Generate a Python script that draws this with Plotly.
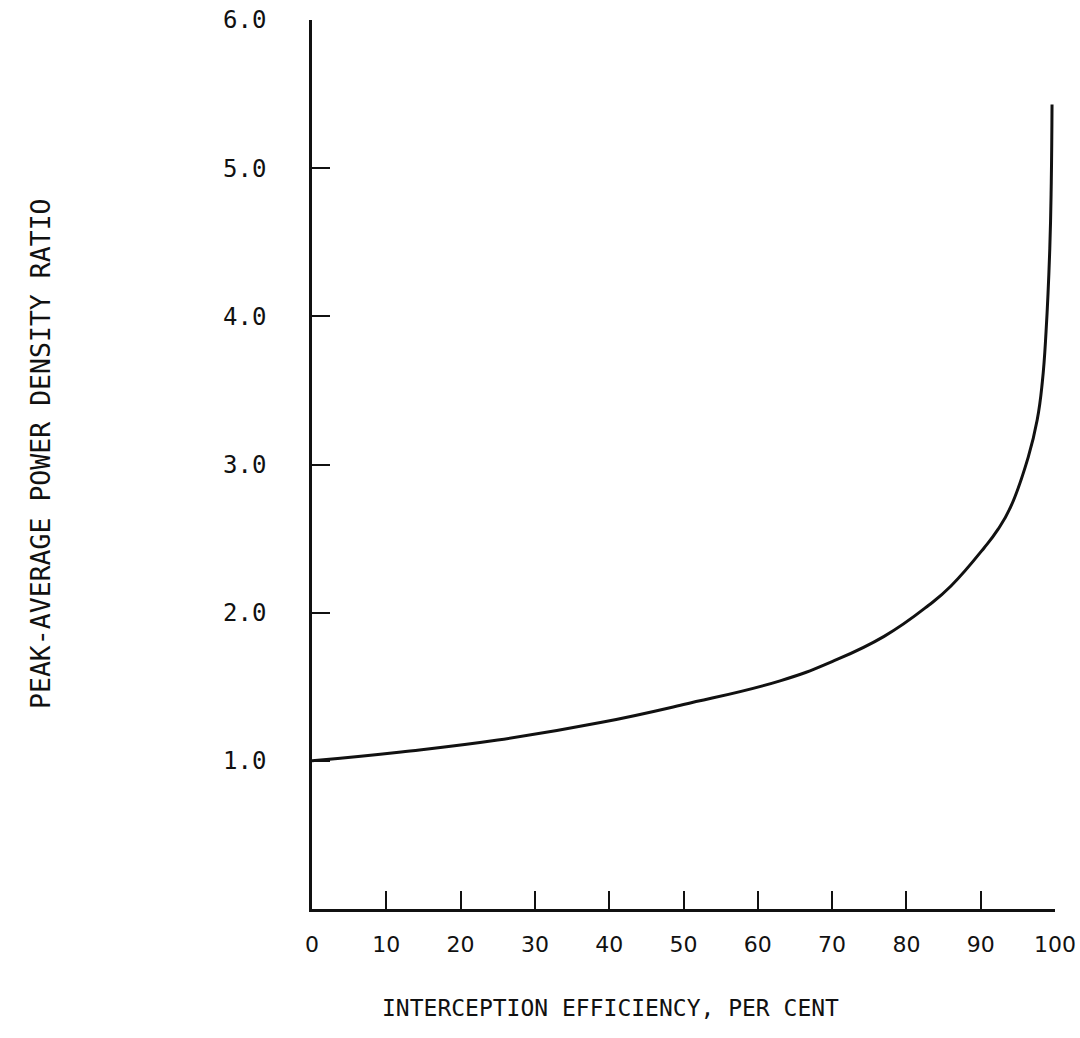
import plotly.graph_objects as go

# Interception efficiency (%) vs. peak-to-average power density ratio
efficiency = [0, 12, 25, 39, 50, 63, 70, 77, 83, 86, 90.5, 92.3, 94, 96.4,
              97.6, 98.3, 98.8, 99.3, 99.5, 99.6]
ratio = [1.00, 1.06, 1.14, 1.26, 1.38, 1.54, 1.67, 1.84, 2.05, 2.18, 2.44,
         2.56, 2.71, 3.05, 3.30, 3.56, 3.90, 4.46, 4.91, 5.43]

x_ticks = [0, 10, 20, 30, 40, 50, 60, 70, 80, 90, 100]
x_labels = ["0", "10", "20", "30", "40", "50", "60", "70", "80", "90", "100"]
y_ticks = [1, 2, 3, 4, 5, 6]
y_labels = ["1.0", "2.0", "3.0", "4.0", "5.0", "6.0"]

x_title = "INTERCEPTION EFFICIENCY, PER CENT"
y_title = "PEAK-AVERAGE POWER DENSITY RATIO"

FONT = "DejaVu Sans Mono"
INK = "#111111"

fig = go.Figure()
fig.add_trace(go.Scatter(
    x=efficiency, y=ratio, mode="lines",
    line=dict(color=INK, width=3, shape="spline", smoothing=1.3),
    showlegend=False, hoverinfo="skip",
))

fig.update_layout(
    width=1080, height=1038,
    margin=dict(l=312, r=25, t=20, b=129),
    paper_bgcolor="white", plot_bgcolor="white",
    font=dict(family=FONT, color=INK),
    xaxis=dict(
        range=[0, 100], tickvals=x_ticks, ticktext=x_labels,
        showline=True, linecolor=INK, linewidth=2.5, mirror=False,
        ticks="inside", ticklen=18, tickwidth=2, tickcolor=INK,
        showgrid=False, zeroline=False, automargin=False,
        tickfont=dict(family="DejaVu Sans", size=22, color=INK),
        ticklabelstandoff=14,
    ),
    yaxis=dict(
        range=[0, 6], tickvals=y_ticks, ticktext=y_labels,
        showline=True, linecolor=INK, linewidth=2.5, mirror=False,
        ticks="inside", ticklen=18, tickwidth=2, tickcolor=INK,
        showgrid=False, zeroline=False, automargin=False,
        tickfont=dict(family=FONT, size=24, color=INK),
        ticklabelstandoff=38,
    ),
)

fig.add_annotation(
    text=x_title, xref="paper", yref="paper",
    x=(610 - 312) / (1055 - 312), y=-(1008 - 909) / (909 - 20),
    showarrow=False, xanchor="center", yanchor="middle",
    font=dict(family=FONT, size=23, color=INK),
)
fig.add_annotation(
    text=y_title, xref="paper", yref="paper",
    x=-(312 - 40) / (1055 - 312), y=(909 - 454) / (909 - 20),
    showarrow=False, xanchor="center", yanchor="middle", textangle=-90,
    font=dict(family=FONT, size=26.5, color=INK),
)

fig.write_html("out.html")
